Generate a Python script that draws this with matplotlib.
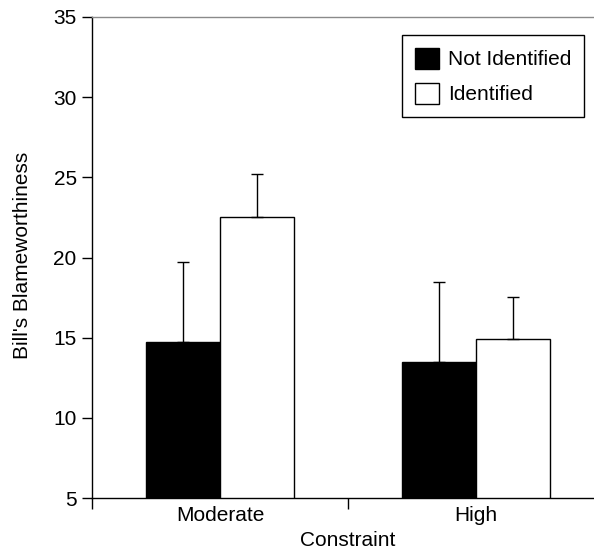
import numpy as np
import matplotlib
matplotlib.use('Agg')
import matplotlib.pyplot as plt
from matplotlib.patches import Patch

# data
conditions = ['Moderate', 'High']
series = ['Not Identified', 'Identified']
not_identified = [14.7, 13.5]
not_identified_err = [5.0, 5.0]
identified = [22.5, 14.9]
identified_err = [2.7, 2.65]
y_ticks = [5, 10, 15, 20, 25, 30, 35]

plt.rcParams['font.family'] = ['Liberation Sans', 'DejaVu Sans']
plt.rcParams['font.size'] = 15

W, H = 594, 551
fig = plt.figure(figsize=(W / 100, H / 100), dpi=100)
# axes runs past the right edge of the figure, as in the original
ax = fig.add_axes([92 / W, 53 / H, 512 / W, 481 / H])

centers = np.arange(len(conditions)) + 0.5
width = 0.29

ax.bar(centers - width / 2, not_identified, width, color='black',
       edgecolor='black', linewidth=1)
ax.bar(centers + width / 2, identified, width, color='white',
       edgecolor='black', linewidth=1)

# one-sided (upper) error bars
ax.errorbar(centers - width / 2, not_identified,
            yerr=[np.zeros(len(conditions)), not_identified_err],
            fmt='none', ecolor='black', elinewidth=1, capsize=4, capthick=1)
ax.errorbar(centers + width / 2, identified,
            yerr=[np.zeros(len(conditions)), identified_err],
            fmt='none', ecolor='black', elinewidth=1, capsize=4, capthick=1)

ax.set_xlim(0, len(conditions))
ax.set_ylim(5, 35)
ax.set_yticks(y_ticks)

# boundaries as major ticks, category names on minor ticks
ax.set_xticks(np.arange(len(conditions) + 1))
ax.set_xticklabels([])
ax.set_xticks(centers, minor=True)
ax.set_xticklabels(conditions, minor=True)
ax.tick_params(axis='x', which='major', direction='out', length=8, width=1)
ax.tick_params(axis='x', which='minor', length=0, pad=6)
ax.tick_params(axis='y', direction='out', length=7, width=1, pad=4)

ax.spines['right'].set_visible(False)
ax.spines['top'].set_color('#8a8a8a')
ax.spines['top'].set_linewidth(1)
ax.spines['left'].set_linewidth(1)
ax.spines['bottom'].set_linewidth(1)

ax.set_ylabel("Bill's Blameworthiness")
ax.yaxis.set_label_coords(-0.117, 0.504)
ax.set_xlabel('Constraint')
ax.xaxis.set_label_coords(0.5, -0.068)

handles = [Patch(facecolor='black', edgecolor='black', linewidth=1),
           Patch(facecolor='white', edgecolor='black', linewidth=1)]
leg = fig.legend(handles, series, loc='upper right',
                 bbox_to_anchor=(584 / W, 1 - 35 / H), borderaxespad=0,
                 fancybox=False, framealpha=1, edgecolor='black',
                 handlelength=1.15, handleheight=1.2, handletextpad=0.45,
                 labelspacing=0.65, borderpad=0.6)
leg.get_frame().set_linewidth(1)

fig.savefig('out.png', dpi=100)
